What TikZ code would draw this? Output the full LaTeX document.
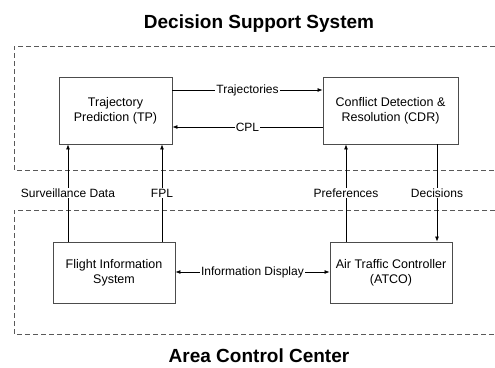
\documentclass[tikz,border=0pt]{standalone}
\usepackage{fontspec}
\setmainfont{Liberation Sans}
\usetikzlibrary{arrows.meta}
\begin{document}
\begin{tikzpicture}[x=1pt, y=-1pt, >={Latex[length=5pt,width=4pt]}, line width=0.7pt,
    box/.style={rectangle, draw=black!70, line width=0.9pt, align=center, inner sep=2pt, font=\fontsize{12.5}{15}\selectfont},
    lbl/.style={fill=white, inner sep=1pt, font=\fontsize{12}{14}\selectfont},
    title/.style={font=\fontsize{19}{22}\selectfont\bfseries},
    dashed box/.style={draw=black!65, line width=0.8pt, dash pattern=on 5pt off 3pt}]

            \useasboundingbox (0,0) rectangle (495,367);

            \node[title] at (259,24) (dss) {Decision Support System};
            \node[title] at (259,356) (acc) {Area Control Center};

            \draw[dashed box] (495,46) -- (14,46) -- (14,170) -- (495,170);
            \draw[dashed box] (495,210) -- (14,210) -- (14,334) -- (495,334);

            \node[box, minimum width=113pt, minimum height=67pt] at (115.5,110.5) (tp) {Trajectory\\Prediction (TP)};
            \node[box, minimum width=135pt, minimum height=67pt] at (390.5,110.5) (cdr) {Conflict Detection \&\\Resolution (CDR)};
            \node[box, minimum width=122pt, minimum height=61pt] at (114,272.5) (fis) {Flight Information\\System};
            \node[box, minimum width=122pt, minimum height=61pt] at (391,272.5) (atco) {Air Traffic Controller\\(ATCO)};

            \path[->] (tp.east |- 0,90) edge node[lbl] {Trajectories} (cdr.west |- 0,90);
            \path[->] (cdr.west |- 0,127) edge node[lbl] {CPL} (tp.east |- 0,127);
            \path[<->] (fis.east |- 0,272) edge node[lbl] {Information Display} (atco.west |- 0,272);

            \path[->] (fis.north -| 68,0) edge node[lbl] {Surveillance Data} (tp.south -| 68,0);
            \path[->] (fis.north -| 162,0) edge node[lbl] {FPL} (tp.south -| 162,0);
            \path[->] (atco.north -| 346,0) edge node[lbl] {Preferences} (cdr.south -| 346,0);
            \path[->] (cdr.south -| 437,0) edge node[lbl] {Decisions} (atco.north -| 437,0);
        \end{tikzpicture}
\end{document}
